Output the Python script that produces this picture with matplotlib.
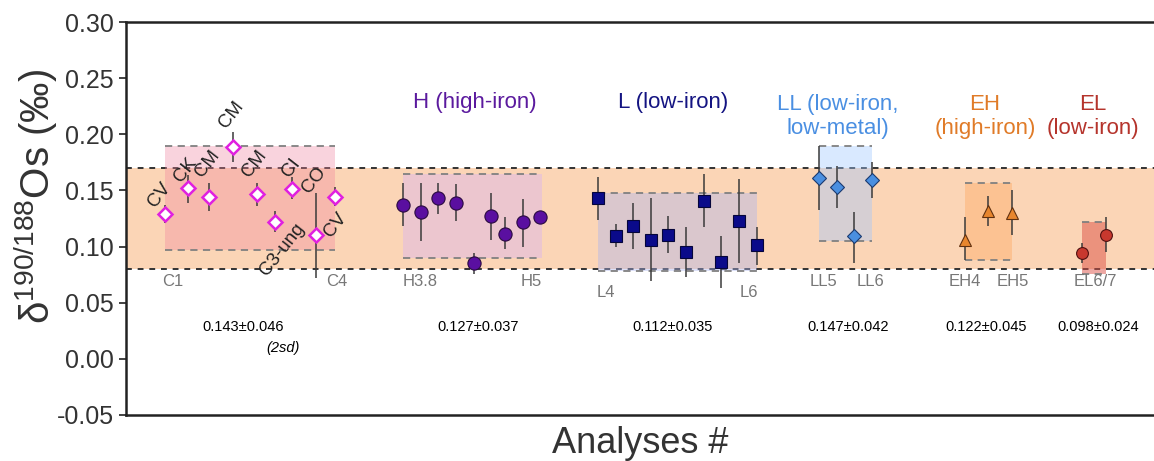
import numpy as np
import matplotlib
matplotlib.use("Agg")
import matplotlib.pyplot as plt

plt.rcParams["font.family"] = ["Liberation Sans", "DejaVu Sans"]
plt.rcParams["mathtext.fontset"] = "custom"
plt.rcParams["mathtext.rm"] = "Liberation Sans"

# ── data (analysis position, delta value, error bar low / high) ─────────────
c_x = [1.95, 3.1, 4.15, 5.35, 6.55, 7.45, 8.3, 9.5, 10.45]
c_y = [0.129, 0.152, 0.144, 0.189, 0.147, 0.122, 0.151, 0.110, 0.144]
c_lo = [0.121, 0.139, 0.132, 0.175, 0.136, 0.113, 0.142, 0.072, 0.136]
c_hi = [0.137, 0.164, 0.157, 0.202, 0.157, 0.132, 0.162, 0.148, 0.153]
c_names = ["CV", "CK", "CM", "CM", "CM", "C3-ung", "CI", "CO", "CV"]

h_x = [13.85, 14.75, 15.6, 16.5, 17.4, 18.25, 18.95, 19.85, 20.7]
h_y = [0.137, 0.131, 0.143, 0.139, 0.085, 0.127, 0.111, 0.122, 0.126]
h_lo = [0.118, 0.105, 0.129, 0.123, 0.076, 0.106, 0.098, 0.100, 0.124]
h_hi = [0.157, 0.157, 0.157, 0.156, 0.094, 0.148, 0.126, 0.142, 0.128]

l_x = [23.6, 24.5, 25.35, 26.25, 27.1, 28.0, 28.9, 29.75, 30.65, 31.55]
l_y = [0.143, 0.109, 0.118, 0.106, 0.110, 0.095, 0.141, 0.086, 0.123, 0.101]
l_lo = [0.124, 0.100, 0.098, 0.069, 0.094, 0.073, 0.117, 0.063, 0.085, 0.084]
l_hi = [0.162, 0.120, 0.139, 0.143, 0.127, 0.117, 0.165, 0.109, 0.160, 0.117]

ll_x = [34.65, 35.55, 36.4, 37.3]
ll_y = [0.161, 0.153, 0.109, 0.159]
ll_lo = [0.133, 0.134, 0.085, 0.143]
ll_hi = [0.190, 0.172, 0.131, 0.175]

eh_x = [41.95, 43.1, 44.3]
eh_y = [0.106, 0.132, 0.130]
eh_lo = [0.088, 0.118, 0.110]
eh_hi = [0.126, 0.145, 0.150]

el_x = [47.8, 49.0]
el_y = [0.094, 0.110]
el_lo = [0.085, 0.095]
el_hi = [0.103, 0.126]

# group ranges (x start, x end, y low, y high)
box_c = [1.95, 10.45, 0.097, 0.190]
box_h = [13.85, 20.8, 0.090, 0.165]
box_l = [23.6, 31.55, 0.078, 0.148]
box_ll = [34.65, 37.3, 0.105, 0.190]
box_eh = [41.95, 44.3, 0.088, 0.157]
box_el = [47.8, 49.0, 0.076, 0.122]

band = [0.080, 0.170]

means = ["0.143±0.046", "0.127±0.037", "0.112±0.035",
         "0.147±0.042", "0.122±0.045", "0.098±0.024"]
mean_x = [5.85, 17.6, 27.35, 36.1, 43.0, 48.6]

sub_labels = ["C1", "C4", "H3.8", "H5", "L4", "L6",
              "LL5", "LL6", "EH4", "EH5", "EL6/7"]
sub_x = [2.35, 10.55, 14.7, 20.25, 24.0, 31.15, 34.9, 37.25, 41.95, 44.35, 48.45]
sub_y = [0.069, 0.069, 0.069, 0.069, 0.059, 0.059,
         0.069, 0.069, 0.069, 0.069, 0.069]

titles = ["H (high-iron)", "L (low-iron)", "LL (low-iron,\nlow-metal)",
          "EH\n(high-iron)", "EL\n(low-iron)"]
title_x = [17.45, 27.35, 35.6, 42.95, 48.35]
title_y = [0.228, 0.228, 0.216, 0.216, 0.216]
title_col = ["#5b1a9e", "#141482", "#4a8fe2", "#e07b28", "#b5342c"]

fig = plt.figure(figsize=(11.54, 4.61), dpi=100)
ax = fig.add_axes([0.109, 0.100, 0.891, 0.852])
ax.set_xlim(0, 51.4)
ax.set_ylim(-0.05, 0.30)

# reference band
ax.axhspan(band[0], band[1], color="#fbd5b6", zorder=0, lw=0)
for b in band:
    ax.axhline(b, color="#333333", lw=1.4, ls=(0, (3, 3)), zorder=1)

# group boxes
boxes = [(box_c, "#f0829f", 0.35), (box_h, "#d2aaff", 0.35),
         (box_l, "#aab4f0", 0.40), (box_ll, "#a0c8ff", 0.40),
         (box_eh, "#ffa050", 0.35), (box_el, "#dc5046", 0.50)]
for (x0, x1, y0, y1), col, a in boxes:
    ax.fill_between([x0, x1], y0, y1, color=col, alpha=a, lw=0, zorder=1)
    ax.hlines([y0, y1], x0, x1, colors="#808080", lw=1.3,
              linestyles=(0, (4, 3)), zorder=2)


def series(x, y, lo, hi, **kw):
    ax.vlines(x, lo, hi, colors="#3a3a3a", lw=1.1, zorder=3)
    ax.plot(x, y, ls="none", zorder=4, **kw)


series(c_x, c_y, c_lo, c_hi, marker="D", ms=7.5, mfc="white",
       mec="#e020e0", mew=1.8)
series(h_x, h_y, h_lo, h_hi, marker="o", ms=9.5, mfc="#5a0fa0",
       mec="#2a0a40", mew=0.8)
series(l_x, l_y, l_lo, l_hi, marker="s", ms=8.5, mfc="#0a0a8a",
       mec="#05053a", mew=0.8)
series(ll_x, ll_y, ll_lo, ll_hi, marker="D", ms=7, mfc="#4a8fe0",
       mec="#1a3a70", mew=0.8)
series(eh_x, eh_y, eh_lo, eh_hi, marker="^", ms=9, mfc="#e8862e",
       mec="#603010", mew=0.8)
series(el_x, el_y, el_lo, el_hi, marker="o", ms=8.5, mfc="#c8382e",
       mec="#501010", mew=0.8)

# rotated carbonaceous names: anchor position and alignment per label
name_pos = [(1.3, 0.137, "left"), (2.6, 0.159, "left"), (3.65, 0.164, "left"),
            (4.85, 0.207, "left"), (6.0, 0.164, "left"), (8.75, 0.119, "right"),
            (8.0, 0.164, "left"), (9.0, 0.149, "left"), (10.9, 0.128, "right")]
for name, (tx, ty, ha) in zip(c_names, name_pos):
    ax.text(tx, ty, name, rotation=52, fontsize=13.5, ha=ha, va="center",
            rotation_mode="anchor", color="#222222")

for lab, x, y in zip(sub_labels, sub_x, sub_y):
    ax.text(x, y, lab, fontsize=12, color="#777777", ha="center", va="center")

for t, x, y, col in zip(titles, title_x, title_y, title_col):
    ax.text(x, y, t, fontsize=16, color=col, ha="center", va="center",
            linespacing=1.15)

for m, x in zip(means, mean_x):
    ax.text(x, 0.028, m, fontsize=10.5, ha="center", va="center",
            family=["Liberation Sans Narrow", "Liberation Sans"])
ax.text(8.7, 0.0097, "(2sd)", fontsize=10.5, style="italic", ha="right",
        va="center", family=["Liberation Sans Narrow", "Liberation Sans"])

ticks = np.arange(-0.05, 0.301, 0.05)
ax.set_yticks(ticks)
ax.set_yticklabels([f"{v:.2f}" for v in ticks])
ax.set_xticks([])
ax.tick_params(axis="y", labelsize=18, length=5, width=1.3, color="#333333",
               labelcolor="#333333")
ax.spines["right"].set_visible(False)
for s in ["left", "top", "bottom"]:
    ax.spines[s].set_linewidth(1.8)
    ax.spines[s].set_color("#222222")

ax.set_xlabel("Analyses #", fontsize=26, color="#333333", labelpad=8)
ax.set_ylabel(r"δ$^{190/188}$Os (‰)", fontsize=29, color="#333333")
ax.yaxis.set_label_coords(-0.064, 0.555)

fig.savefig("out.png", dpi=100)
